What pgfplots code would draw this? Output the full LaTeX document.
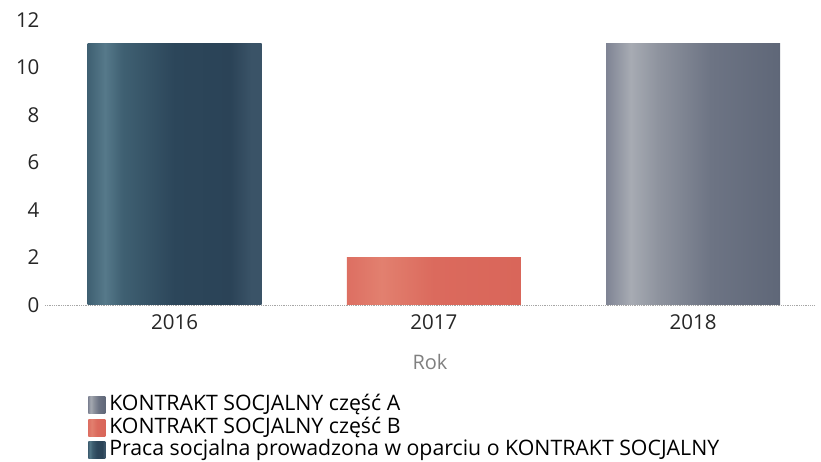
\documentclass[border=0pt]{standalone}
\usepackage{pgfplots}
\pgfplotsset{compat=1.18}
\usepackage{fontspec}
\setmainfont{Open Sans}
\newfontfamily\legfont{Open Sans}
\definecolor{t1}{HTML}{3F6072}
\definecolor{t2}{HTML}{56798A}
\definecolor{t3}{HTML}{2C465A}
\definecolor{t4}{HTML}{2B4357}
\definecolor{t5}{HTML}{3A5367}
\definecolor{g1}{HTML}{7F8494}
\definecolor{g2}{HTML}{A7ABB3}
\definecolor{g3}{HTML}{8E939E}
\definecolor{g4}{HTML}{6D7484}
\definecolor{g5}{HTML}{5F6778}
\definecolor{r1}{HTML}{DD6F62}
\definecolor{r2}{HTML}{E2806F}
\definecolor{r3}{HTML}{DB6A5D}
\definecolor{r4}{HTML}{D9665A}
\pgfdeclarehorizontalshading{tealshade}{100bp}{color(0bp)=(t1); color(25bp)=(t1); color(30bp)=(t2); color(35bp)=(t1); color(50bp)=(t3); color(66bp)=(t4); color(72bp)=(t5); color(75bp)=(t5); color(100bp)=(t5)}
\pgfdeclarehorizontalshading{grayshade}{100bp}{color(0bp)=(g1); color(25bp)=(g1); color(32bp)=(g2); color(40bp)=(g3); color(55bp)=(g4); color(75bp)=(g5); color(100bp)=(g5)}
\pgfdeclarehorizontalshading{redshade}{100bp}{color(0bp)=(r1); color(25bp)=(r1); color(35bp)=(r2); color(50bp)=(r3); color(75bp)=(r4); color(100bp)=(r4)}
\begin{document}
\begin{tikzpicture}
\begin{axis}[
  at={(0,0)}, anchor=south west,
  scale only axis, width=770pt, height=285pt,
  xmin=-0.5, xmax=2.47, ymin=0, ymax=12,
  axis y line*=left, axis x line*=bottom,
  y axis line style={draw=none},
  x axis line style={gray!70, densely dotted, line width=0.8pt, -},
  xtick={0,1,2}, xticklabels={2016,2017,2018},
  ytick={0,2,4,6,8,10,12},
  major tick length=0pt,
  ybar, bar width=174pt, bar shift=0pt,
  tick label style={font=\fontsize{20.5}{24}\selectfont, text=black!85},
  /pgf/number format/assume math mode=true,
  xticklabel style={yshift=-6pt},
  yticklabel style={xshift=-2pt},
  xlabel={Rok}, xlabel style={font=\fontsize{20}{24}\selectfont, text=gray, yshift=-18pt},
  legend style={at={(0.056,-0.318)}, anchor=north west, draw=none, fill=none,
    font=\legfont\fontsize{21.3}{24}\selectfont, row sep=2.5pt, inner sep=0pt,
    nodes={inner xsep=4pt, inner ysep=0pt, text height=15pt, text depth=5pt}},
  legend cell align=left,
  legend image code/.code={\path[#1, draw=none] (0pt,-8pt) rectangle (17pt,9pt);},
]
\addplot[draw=none, shading=grayshade] coordinates {(2,11)};
\addlegendentry{KONTRAKT SOCJALNY część A}
\addplot[draw=none, shading=redshade] coordinates {(1,2)};
\addlegendentry{KONTRAKT SOCJALNY część B}
\addplot[draw=none, shading=tealshade] coordinates {(0,11)};
\addlegendentry{Praca socjalna prowadzona w oparciu o KONTRAKT SOCJALNY}
\end{axis}
\pgfresetboundingbox
\path (-45pt,-157pt) rectangle (776pt,305pt);
\end{tikzpicture}
\end{document}
